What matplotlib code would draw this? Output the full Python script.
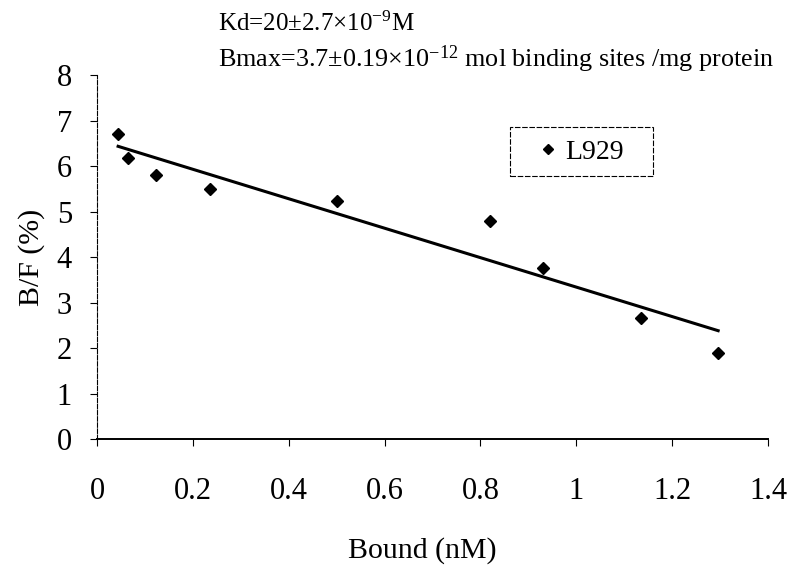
import numpy as np
import matplotlib
matplotlib.use("Agg")
import matplotlib.pyplot as plt
from matplotlib.patches import Rectangle

plt.rcParams['font.family'] = ['Liberation Serif', 'DejaVu Serif']
plt.rcParams['mathtext.fontset'] = 'custom'
plt.rcParams['mathtext.rm'] = 'Liberation Serif'
plt.rcParams['mathtext.it'] = 'Liberation Serif:italic'

# Scatchard data
bound = [0.044, 0.065, 0.124, 0.236, 0.500, 0.820, 0.930, 1.135, 1.296]
bf = [6.70, 6.18, 5.80, 5.49, 5.24, 4.79, 3.76, 2.67, 1.88]
xticks = [0, 0.2, 0.4, 0.6, 0.8, 1, 1.2, 1.4]
xticklabels = ['0', '0.2', '0.4', '0.6', '0.8', '1', '1.2', '1.4']
yticks = [0, 1, 2, 3, 4, 5, 6, 7, 8]

fig = plt.figure(figsize=(7.92, 5.67), dpi=100)
ax = fig.add_axes([0.1225, 0.2257, 0.8472, 0.642])

ax.plot(bound, bf, linestyle='none', marker='D', markersize=6.5,
        color='black', label='L929')

# least-squares line through the points
slope, icpt = np.polyfit(bound, bf, 1)
xl = np.array([min(bound), max(bound)])
ax.plot(xl, slope * xl + icpt, color='black', linewidth=2.2)

ax.set_xlim(0, 1.4)
ax.set_ylim(0, 8)
ax.set_xticks(xticks)
ax.set_xticklabels(xticklabels)
ax.set_yticks(yticks)
ax.tick_params(labelsize=22, length=5, width=0.8, direction='out')
ax.tick_params(axis='x', pad=22)
ax.tick_params(axis='y', pad=13)

ax.spines['top'].set_visible(False)
ax.spines['right'].set_visible(False)
ax.spines['left'].set_linewidth(0.8)
ax.spines['left'].set_linestyle((0, (4, 1.5)))
ax.spines['bottom'].set_linewidth(1.4)

ax.set_xlabel('Bound (nM)', fontsize=21.5)
ax.set_ylabel('B/F (%)', fontsize=21.5)
ax.xaxis.set_label_coords(0.485, -0.268)
ax.yaxis.set_label_coords(-0.078, 0.5)

fig.text(218 / 792, 1 - 31 / 567, r'Kd=20$\pm$2.7$\times$10$^{-9}$M',
         fontsize=18, va='baseline', ha='left')
fig.text(218 / 792, 1 - 67 / 567,
         r'Bmax=3.7$\pm$0.19$\times$10$^{-12}$ mol binding sites /mg protein',
         fontsize=18.8, va='baseline', ha='left')

# legend box drawn separately so its padding matches the original
leg = ax.legend(loc='center left', bbox_to_anchor=(537 / 792, 1 - 152 / 567),
                bbox_transform=fig.transFigure, fontsize=20, frameon=False,
                borderpad=0, borderaxespad=0, handlelength=0.8,
                handletextpad=0.2, markerscale=0.8)
fig.patches.append(Rectangle((510 / 792, 1 - 176 / 567), 143 / 792, 49 / 567,
                             transform=fig.transFigure, fill=False,
                             edgecolor='black', linewidth=0.8,
                             linestyle=(0, (5, 1.5))))

fig.savefig('out.png', dpi=100)
